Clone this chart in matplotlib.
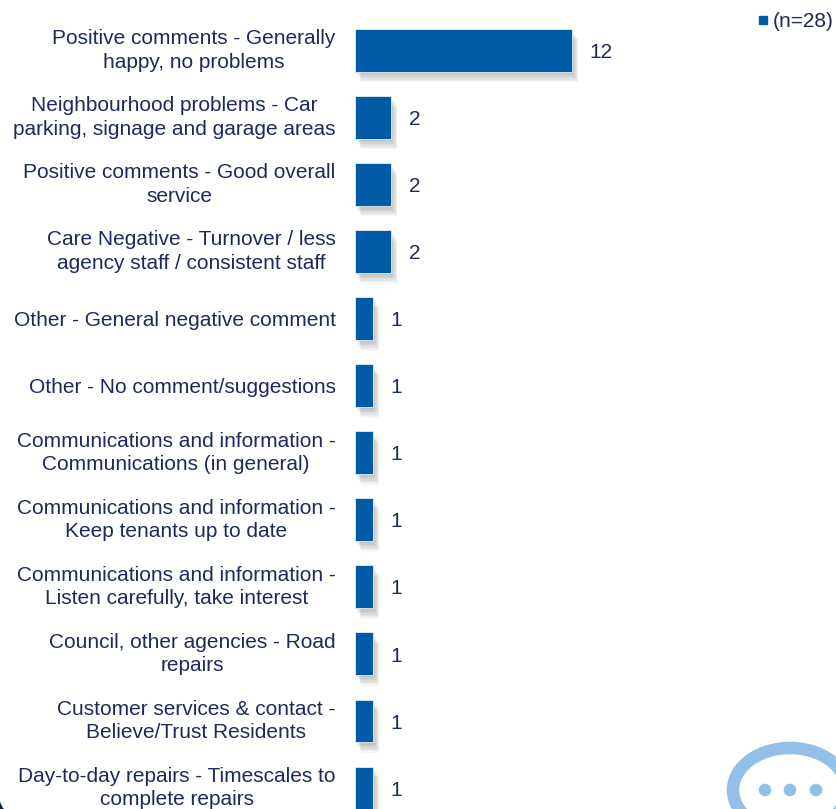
#!/usr/bin/env python3
"""Horizontal bar chart of open comment themes, with speech-bubble decoration."""

import matplotlib

matplotlib.use("Agg")
import matplotlib.patheffects as pe  # noqa: E402
import matplotlib.pyplot as plt  # noqa: E402
from matplotlib.lines import Line2D  # noqa: E402
from matplotlib.patches import Circle, Ellipse, PathPatch  # noqa: E402
from matplotlib.path import Path  # noqa: E402

plt.rcParams["font.family"] = ["Liberation Sans", "DejaVu Sans"]

CATEGORIES = [
    "Positive comments - Generally\nhappy, no problems",
    "Neighbourhood problems - Car\nparking, signage and garage areas",
    "Positive comments - Good overall\nservice",
    "Care Negative - Turnover / less\nagency staff / consistent staff",
    "Other - General negative comment",
    "Other - No comment/suggestions",
    "Communications and information -\nCommunications (in general)",
    "Communications and information -\nKeep tenants up to date",
    "Communications and information -\nListen carefully, take interest",
    "Council, other agencies - Road\nrepairs",
    "Customer services & contact -\nBelieve/Trust Residents",
    "Day-to-day repairs - Timescales to\ncomplete repairs",
]
COUNTS = [12, 2, 2, 2, 1, 1, 1, 1, 1, 1, 1, 1]
SERIES_LABEL = "(n=28)"

BAR = "#005AA5"
TEXT = "#1F2A5C"
BUBBLE = "#92C0E8"
W, H = 837, 809
FONT = 15

fig = plt.figure(figsize=(W / 100, H / 100), dpi=100, facecolor="white")

# pixel-space layer for the decoration
deco = fig.add_axes([0, 0, 1, 1], zorder=0)
deco.set_xlim(0, W)
deco.set_ylim(H, 0)
deco.axis("off")
deco.add_patch(Ellipse((790, 790), 114, 84, fc="none", ec=BUBBLE, lw=9))
for cx in (765, 790, 816):
    deco.add_patch(Circle((cx, 790), 6.3, fc=BUBBLE, ec="none"))
corner = Path([(0, 801), (1, 806), (4, 809), (0, 809), (0, 801)],
              [Path.MOVETO, Path.CURVE3, Path.CURVE3, Path.LINETO, Path.CLOSEPOLY])
deco.add_patch(PathPatch(corner, fc="#14214F", ec="none"))

# 18.1 px per count, 67.05 px per row, first row centred at y=50.5
left, pitch, unit = 355, 67.05, 18.1
ax = fig.add_axes([left / W, 0, 1 - left / W, 1], zorder=1)
ax.patch.set_alpha(0)
ax.set_xlim(0, (W - left) / unit)
ax.set_ylim((H - 50.5) / pitch, -50.5 / pitch)

rows = range(len(COUNTS))
shadow = [pe.SimplePatchShadow(offset=(o * 0.6, -o), shadow_rgbFace="black", alpha=0.035)
          for o in (0.5, 1.5, 2.5, 3.5, 4.5, 5.5, 6.5, 7.5)]
bars = ax.barh(rows, COUNTS, height=0.64, color=BAR, edgecolor="#E4EEF6", lw=0.6, clip_on=False)
for b in bars:
    b.set_path_effects(shadow + [pe.Normal()])
for y, v in zip(rows, COUNTS):
    ax.annotate(str(v), (v, y), xytext=(12.5, -1.5), textcoords="offset points",
                ha="left", va="center", fontsize=FONT, color=TEXT)

ax.set_yticks(list(rows), CATEGORIES, fontsize=FONT, color=TEXT, ma="center", linespacing=1.3,
              va="center")
# single-line labels sit a little lower than the two-line blocks
for lab in ax.get_yticklabels():
    if "\n" not in lab.get_text():
        lab.set_va("center_baseline")
ax.tick_params(axis="y", length=0, pad=14)
ax.set_xticks([])
for s in ax.spines.values():
    s.set_visible(False)

handle = Line2D([], [], ls="none", marker="s", ms=5.6, color=BAR)
ax.legend([handle], [SERIES_LABEL], loc="upper right", bbox_to_anchor=(1.0054, 0.9926), frameon=False,
          fontsize=FONT, labelcolor=TEXT, handletextpad=-0.05, borderaxespad=0, borderpad=0.3,
          handlelength=1.0)

fig.savefig("out.png", dpi=100)
